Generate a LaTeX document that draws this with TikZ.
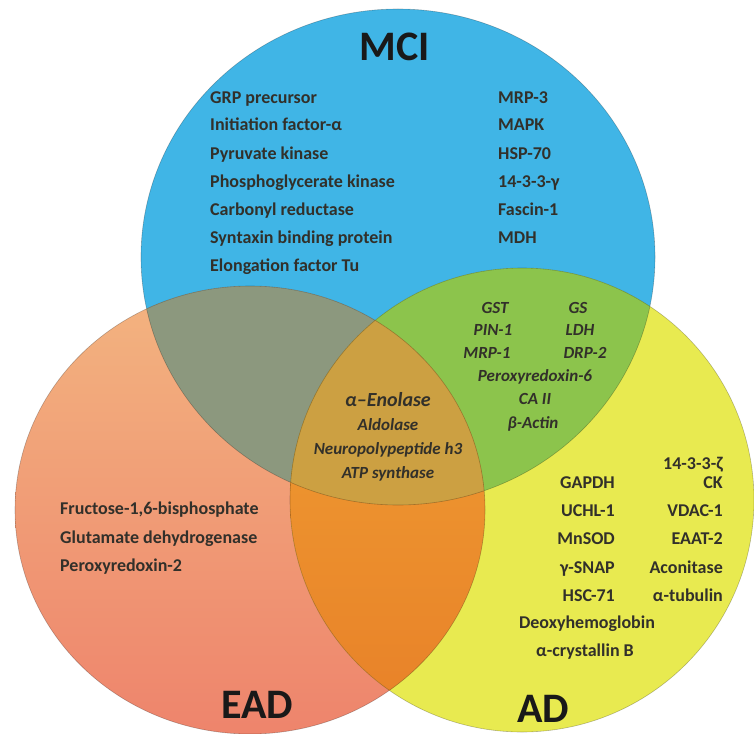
\documentclass[tikz,border=0pt]{standalone}
\usepackage{fontspec}
\setmainfont{Carlito}
\usepackage{tikz}
\usetikzlibrary{positioning}
\definecolor{mciblue}{RGB}{64,181,230}
\definecolor{eadtop}{RGB}{243,180,128}
\definecolor{eadbot}{RGB}{238,132,108}
\definecolor{adyellow}{RGB}{232,234,80}
\definecolor{mciead}{RGB}{140,152,126}
\definecolor{mciad}{RGB}{140,196,76}
\definecolor{eadadtop}{RGB}{240,162,52}
\definecolor{eadadbot}{RGB}{232,128,40}
\definecolor{triple}{RGB}{204,160,66}
\definecolor{txt}{RGB}{50,48,42}

\def\mcicirc{(398,257) ellipse [x radius=257pt, y radius=248pt]}
\def\eadcirc{(250,510) ellipse [x radius=235pt, y radius=224pt]}
\def\adcirc{(522,500) ellipse [x radius=232pt, y radius=232pt]}

\begin{document}
\begin{tikzpicture}[x=1pt, y=-1pt,
        item/.style={text=txt, inner sep=0pt, font=\fontsize{18}{20}\selectfont\bfseries},
        shared/.style={text=txt, inner sep=0pt, font=\fontsize{17}{19}\selectfont\bfseries\itshape},
        title/.style={text=black!90, inner sep=0pt, font=\fontsize{42}{46}\selectfont\bfseries}]
    \useasboundingbox (0,0) rectangle (754,733);
    % the three sets
    \fill[mciblue] \mcicirc;
    \shade[top color=eadtop, bottom color=eadbot] \eadcirc;
    \fill[adyellow] \adcirc;
    % overlaps
    \begin{scope}
        \clip \mcicirc;
        \fill[mciead] \eadcirc;
        \fill[mciad] \adcirc;
    \end{scope}
    \begin{scope}
        \clip \eadcirc;
        \shade[top color=eadadtop, bottom color=eadadbot] \adcirc;
    \end{scope}
    \begin{scope}
        \clip \mcicirc;
        \clip \eadcirc;
        \fill[triple] \adcirc;
    \end{scope}
    \draw[black, opacity=.25, line width=.6pt] \mcicirc \eadcirc \adcirc;

    % MCI
    \node[title, anchor=base] (mci) at (395,61) {MCI};
    \node[item, anchor=base west] (grp) at (210,103) {GRP precursor};
    \node[item, anchor=base west] (initf) at (210,131) {Initiation factor-α};
    \node[item, anchor=base west] (pyrk) at (210,159) {Pyruvate kinase};
    \node[item, anchor=base west] (pgk) at (210,187) {Phosphoglycerate kinase};
    \node[item, anchor=base west] (carb) at (210,215) {Carbonyl reductase};
    \node[item, anchor=base west] (stx) at (210,243) {Syntaxin binding protein};
    \node[item, anchor=base west] (eftu) at (210,271) {Elongation factor Tu};
    \node[item, anchor=base west] (mrpiii) at (498,103) {MRP-3};
    \node[item, anchor=base west] (mapk) at (498,131) {MAPK};
    \node[item, anchor=base west] (hsp) at (498,159) {HSP-70};
    \node[item, anchor=base west] (gamma) at (498,187) {14-3-3-γ};
    \node[item, anchor=base west] (fascin) at (498,215) {Fascin-1};
    \node[item, anchor=base west] (mdh) at (498,243) {MDH};

    % MCI and AD
    \node[shared, anchor=base] (gst) at (495,313) {GST};
    \node[shared, anchor=base] (gs) at (578,313) {GS};
    \node[shared, anchor=base] (pin) at (493,335) {PIN-1};
    \node[shared, anchor=base] (ldh) at (580,335) {LDH};
    \node[shared, anchor=base] (mrpi) at (487,358) {MRP-1};
    \node[shared, anchor=base] (drp) at (585,358) {DRP-2};
    \node[shared, anchor=base] (prxvi) at (535,381) {Peroxyredoxin-6};
    \node[shared, anchor=base] (caii) at (535,404) {CA II};
    \node[shared, anchor=base] (actin) at (533,428) {β-Actin};

    % all three
    \node[shared, anchor=base, font=\fontsize{20}{22}\selectfont\bfseries\itshape] (enol) at (388,406) {α–Enolase};
    \node[shared, anchor=base] (aldo) at (388,430) {Aldolase};
    \node[shared, anchor=base] (npp) at (388,454) {Neuropolypeptide h3};
    \node[shared, anchor=base] (atp) at (388,478) {ATP synthase};

    % EAD
    \node[item, anchor=base west] (fbp) at (60,514) {Fructose-1,6-bisphosphate};
    \node[item, anchor=base west] (gdh) at (60,543) {Glutamate dehydrogenase};
    \node[item, anchor=base west] (prxii) at (60,571) {Peroxyredoxin-2};
    \node[title, anchor=base] (ead) at (257,718) {EAD};

    % AD
    \node[item, anchor=base east] (zeta) at (723,469) {14-3-3-ζ};
    \node[item, anchor=base east] (gapdh) at (615,488) {GAPDH};
    \node[item, anchor=base east] (ck) at (723,488) {CK};
    \node[item, anchor=base east] (uchl) at (615,516) {UCHL-1};
    \node[item, anchor=base east] (vdac) at (723,516) {VDAC-1};
    \node[item, anchor=base east] (mnsod) at (615,544) {MnSOD};
    \node[item, anchor=base east] (eaat) at (723,544) {EAAT-2};
    \node[item, anchor=base east] (snap) at (615,573) {γ-SNAP};
    \node[item, anchor=base east] (acon) at (723,573) {Aconitase};
    \node[item, anchor=base east] (hsc) at (615,601) {HSC-71};
    \node[item, anchor=base east] (tub) at (723,601) {α-tubulin};
    \node[item, anchor=base] (deoxy) at (587,628) {Deoxyhemoglobin};
    \node[item, anchor=base] (cryst) at (585,656) {α-crystallin B};
    \node[title, anchor=base] (ad) at (543,722) {AD};
\end{tikzpicture}
\end{document}
